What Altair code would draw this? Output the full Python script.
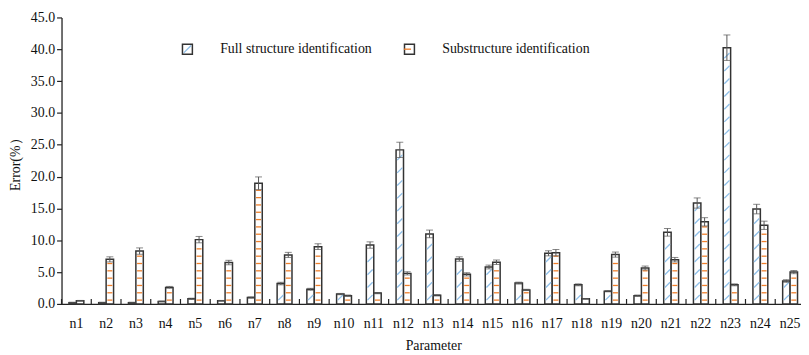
import altair as alt
import pandas as pd

params = ["n1", "n2", "n3", "n4", "n5", "n6", "n7", "n8", "n9", "n10", "n11", "n12", "n13",
          "n14", "n15", "n16", "n17", "n18", "n19", "n20", "n21", "n22", "n23", "n24", "n25"]
series_names = ["Full structure identification", "Substructure identification"]

full = [0.2, 0.2, 0.2, 0.4, 0.8, 0.5, 1.0, 3.2, 2.3, 1.55, 9.25, 24.2, 11.0, 7.05, 5.8,
        3.27, 7.95, 3.0, 2.0, 1.3, 11.25, 15.85, 40.25, 14.9, 3.6]
full_err = [0.05, 0.05, 0.05, 0.05, 0.1, 0.05, 0.1, 0.2, 0.15, 0.1, 0.5, 1.2, 0.6, 0.35, 0.3,
            0.15, 0.4, 0.15, 0.1, 0.1, 0.6, 0.8, 2.0, 0.75, 0.2]
sub = [0.5, 7.0, 8.3, 2.6, 10.1, 6.5, 18.95, 7.7, 9.0, 1.3, 1.7, 4.8, 1.35, 4.65, 6.55,
       2.2, 8.05, 0.8, 7.75, 5.65, 6.95, 12.9, 3.0, 12.35, 5.0]
sub_err = [0.05, 0.4, 0.5, 0.15, 0.5, 0.35, 1.0, 0.4, 0.45, 0.1, 0.1, 0.25, 0.1, 0.25, 0.35,
           0.1, 0.5, 0.05, 0.4, 0.3, 0.35, 0.65, 0.15, 0.65, 0.25]
y_ticks = [0, 5, 10, 15, 20, 25, 30, 35, 40, 45]

rows = []
for s, vals, errs in [(series_names[0], full, full_err), (series_names[1], sub, sub_err)]:
    for p, v, e in zip(params, vals, errs):
        rows.append({"param": p, "series": s, "value": v, "lo": v - e, "hi": v + e})
df = pd.DataFrame(rows)

# decorative hatch positions inside each bar (pattern fill)
hatch_rows = []
for r in rows:
    if r["series"] == series_names[0]:
        step, start = 2.0, 1.0
    else:
        step, start = 1.15, 0.6
    pos = start
    while pos < r["value"] - 0.35:
        hatch_rows.append({"param": r["param"], "series": r["series"],
                           "series_h": r["series"], "pos": pos})
        pos += step
hatch = pd.DataFrame(hatch_rows)
bounds = pd.DataFrame({"param": params})

FONT = "Liberation Serif"
FS = 14
INK = "#111111"

x_axis = alt.Axis(title="Parameter", labelAngle=0, ticks=False, tickSize=0, labelPadding=13,
                  titlePadding=8, domainColor="#222", domainWidth=1.3,
                  labelFont=FONT, titleFont=FONT, labelFontSize=FS, titleFontSize=FS,
                  titleFontWeight="normal", labelColor=INK, titleColor=INK)
x_scale = alt.Scale(paddingInner=0, paddingOuter=0, range=[0, 750])
x_enc = alt.X("param:N", sort=params, scale=x_scale, axis=x_axis)
xoff = alt.XOffset("series:N", sort=series_names,
                   scale=alt.Scale(domain=series_names, paddingInner=0, paddingOuter=1))
y_axis = alt.Axis(values=y_ticks, format=".1f",
                  tickSize=5, labelPadding=2, title="Error(%）", titlePadding=8,
                  grid=False, domainColor="#222", domainWidth=1.3, tickColor="#222",
                  tickWidth=1.2, labelFont=FONT, titleFont=FONT, labelFontSize=FS,
                  titleFontSize=FS, titleFontWeight="normal", labelColor=INK,
                  titleColor=INK, labelOverlap=False)
y_scale = alt.Scale(domain=[0, 45], nice=False)

legend_common = dict(orient="none", legendX=120, legendY=25, direction="horizontal",
                     title=None, symbolSize=100, labelFontSize=FS, labelFont=FONT,
                     labelOffset=26, padding=0)

bars = alt.Chart(df).mark_bar(fill="white", strokeWidth=1.5).encode(
    x=x_enc, xOffset=xoff,
    y=alt.Y("value:Q", scale=y_scale, axis=y_axis),
    stroke=alt.Stroke("series:N", sort=series_names,
                      scale=alt.Scale(domain=series_names, range=["#333333", "#333333"]),
                      legend=alt.Legend(symbolStrokeWidth=1.5, symbolFillColor="transparent",
                                        symbolType="square", labelColor=INK,
                                        columnPadding=29, **legend_common)),
)

diag = "M-0.75,0.75L0.75,-0.75"
horiz = "M-0.72,0L0.72,0"
hatch_legend = alt.Legend(symbolStrokeWidth=1.3, labelExpr="''",
                          columnPadding=29 + 153, **legend_common)
hatch_layer = alt.Chart(hatch).mark_point(filled=False, strokeWidth=1.3, size=49, opacity=1).encode(
    x=x_enc, xOffset=xoff,
    y=alt.Y("pos:Q", scale=y_scale, axis=y_axis),
    color=alt.Color("series_h:N", sort=series_names,
                    scale=alt.Scale(domain=series_names, range=["#8fbfe8", "#f07f2a"]),
                    legend=hatch_legend),
    shape=alt.Shape("series_h:N", sort=series_names,
                    scale=alt.Scale(domain=series_names, range=[diag, horiz]),
                    legend=hatch_legend),
)

err_rule = alt.Chart(df).mark_rule(color="#555555", strokeWidth=1).encode(
    x=x_enc, xOffset=xoff, y=alt.Y("lo:Q", scale=y_scale, axis=y_axis), y2="hi:Q")
cap_hi = alt.Chart(df).mark_tick(color="#555555", thickness=1, size=7).encode(
    x=x_enc, xOffset=xoff, y=alt.Y("hi:Q", scale=y_scale, axis=y_axis))
cap_lo = alt.Chart(df).mark_tick(color="#555555", thickness=1, size=7).encode(
    x=x_enc, xOffset=xoff, y=alt.Y("lo:Q", scale=y_scale, axis=y_axis))

ticks = alt.Chart(bounds).mark_rule(color="#222222", strokeWidth=1.2).encode(
    x=alt.X("param:N", sort=params, bandPosition=0, scale=x_scale, axis=x_axis),
    y=alt.value(289), y2=alt.value(284))

chart = alt.layer(bars, hatch_layer, err_rule, cap_hi, cap_lo, ticks).resolve_scale(
    color="independent", shape="independent", stroke="independent"
).properties(
    width=746, height=289,
    padding={"left": 54, "top": 8, "right": 0, "bottom": 52},
    autosize=alt.AutoSizeParams(type="none"),
).configure(font=FONT).configure_view(stroke=None)

chart.save("out.html", embed_options={"renderer": "svg", "actions": False})
